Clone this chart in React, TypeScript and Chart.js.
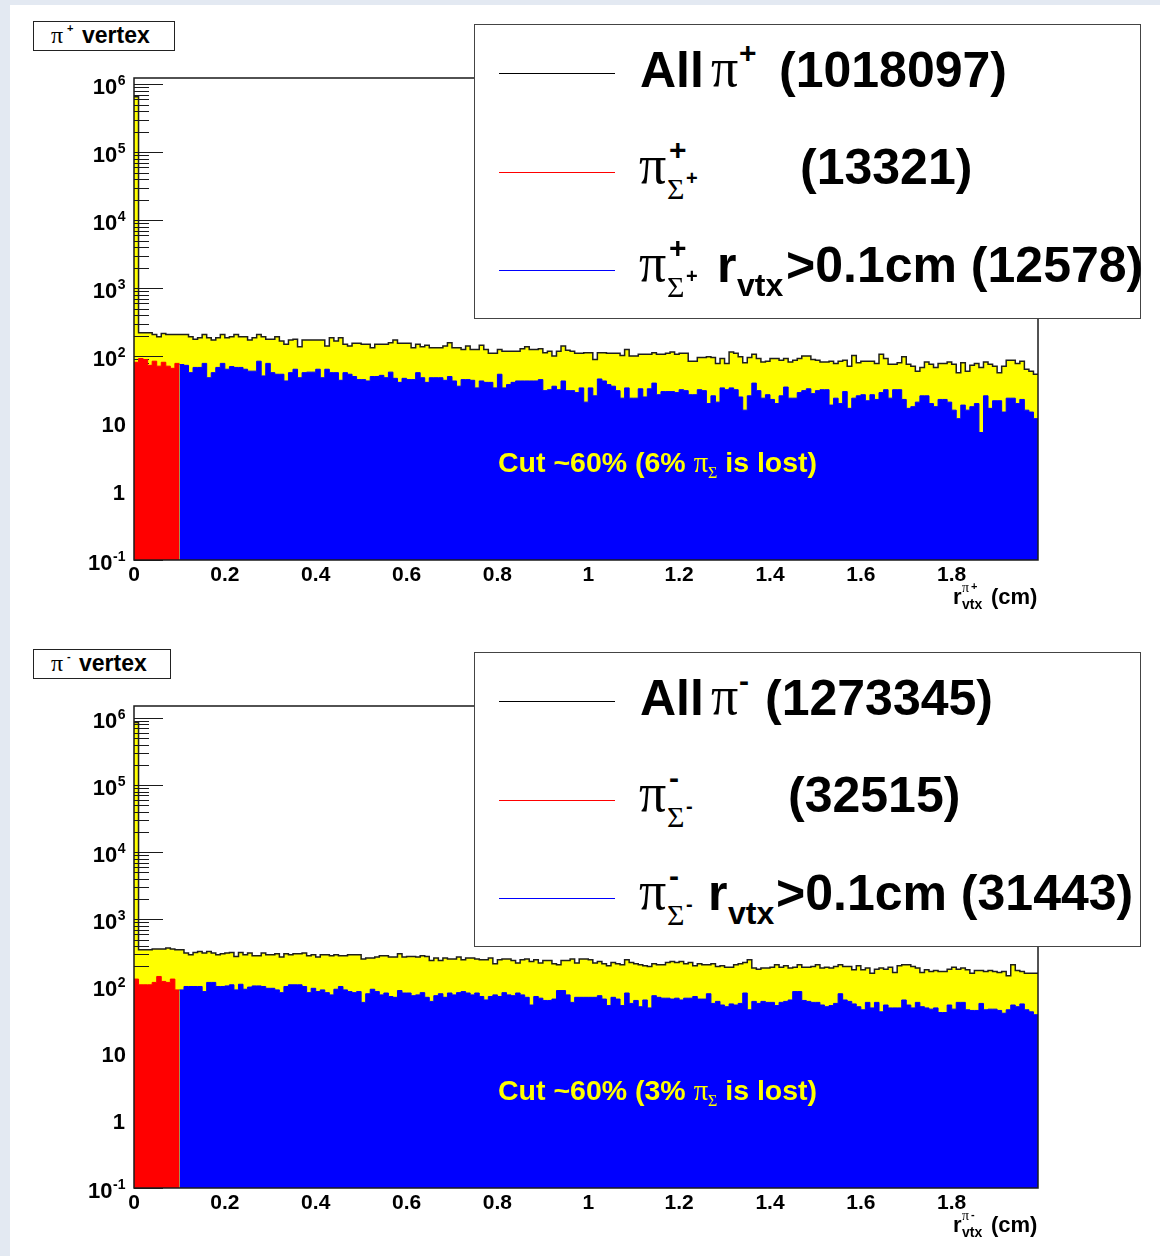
import React, { useEffect, useRef } from 'react';
import { Chart, registerables } from 'chart.js';

Chart.register(...registerables);

// ---------------- data ----------------
const BIN_WIDTH = 0.01; // cm
const X_MIN = 0;
const X_MAX = 1.99;
const Y_MIN = 0.1;
const Y_MAX_PLUS = 1.23e6;
const Y_MAX_MINUS = 1.5e6;
const X_TICKS = [0, 0.2, 0.4, 0.6, 0.8, 1, 1.2, 1.4, 1.6, 1.8];
const X_TICK_LABELS = ['0', '0.2', '0.4', '0.6', '0.8', '1', '1.2', '1.4', '1.6', '1.8'];
const Y_DECADES = [-1, 0, 1, 2, 3, 4, 5, 6];

// pi+ : all (yellow), bins 0..198
const PIP_ALL = [
  650000, 221, 221, 221, 208, 193, 215, 208, 208, 208,
  208, 208, 193, 176, 186, 208, 186, 172, 186, 208,
  186, 193, 208, 193, 193, 172, 186, 208, 193, 176,
  176, 193, 166, 149, 172, 176, 137, 172, 172, 172,
  172, 172, 140, 186, 166, 186, 149, 140, 154, 154,
  149, 149, 133, 149, 149, 149, 157, 172, 154, 154,
  154, 133, 149, 137, 144, 133, 133, 133, 140, 157,
  133, 133, 125, 140, 125, 125, 144, 125, 110, 110,
  125, 118, 118, 118, 118, 128, 137, 125, 125, 128,
  112, 118, 100, 118, 140, 122, 118, 110, 110, 112,
  112, 89, 112, 112, 110, 110, 110, 102, 125, 100,
  100, 106, 106, 106, 112, 106, 106, 110, 115, 106,
  110, 110, 84, 84, 95, 95, 98, 95, 78, 92,
  78, 115, 110, 98, 80, 95, 106, 92, 82, 84,
  92, 92, 87, 92, 82, 87, 92, 100, 100, 89,
  87, 82, 82, 84, 78, 84, 87, 71, 102, 80,
  84, 84, 84, 78, 106, 92, 76, 76, 80, 98,
  76, 71, 60, 68, 82, 76, 68, 78, 78, 82,
  76, 57, 80, 60, 73, 78, 68, 82, 76, 71,
  57, 71, 87, 87, 78, 84, 64, 60, 54,
];
// pi+ from Sigma+, r < 0.1 cm (red), bins 0..9
const PIP_SIGMA_IN = [81, 92, 89, 73, 84, 71, 81, 71, 66, 78];
// pi+ from Sigma+, r > 0.1 cm (blue), bins 10..198
const PIP_SIGMA_OUT = [
  75, 73, 57, 68, 68, 78, 48, 57, 68, 78,
  64, 70, 68, 68, 64, 60, 60, 84, 51, 78,
  57, 54, 54, 43, 57, 64, 48, 57, 58, 58,
  64, 48, 64, 57, 57, 44, 57, 54, 50, 45,
  45, 43, 50, 50, 52, 48, 58, 47, 41, 47,
  45, 45, 57, 48, 41, 48, 48, 48, 44, 50,
  43, 36, 45, 45, 44, 34, 43, 41, 41, 34,
  54, 34, 38, 41, 43, 43, 43, 43, 43, 45,
  31, 32, 36, 32, 43, 31, 31, 29, 34, 21,
  34, 26, 46, 43, 38, 36, 31, 24, 34, 24,
  24, 33, 25, 33, 40, 27, 30, 30, 30, 29,
  32, 31, 27, 27, 32, 31, 20, 26, 21, 34,
  32, 34, 32, 25, 16, 26, 40, 31, 24, 27,
  23, 20, 26, 35, 24, 24, 29, 31, 33, 28,
  31, 32, 32, 19, 24, 20, 30, 17, 24, 26,
  27, 22, 27, 23, 29, 32, 24, 32, 32, 23,
  17, 18, 21, 26, 26, 20, 18, 23, 23, 21,
  16, 12, 19, 16, 18, 20, 7.5, 26, 17, 22,
  22, 15, 24, 24, 20, 23, 16, 15, 12,
];

// pi- : all (yellow), bins 0..198
const PIM_ALL = [
  850000, 352, 352, 352, 361, 361, 361, 373, 361, 352,
  352, 314, 297, 321, 332, 314, 332, 314, 297, 307,
  314, 321, 280, 321, 297, 314, 287, 287, 314, 297,
  297, 307, 274, 307, 297, 307, 307, 314, 287, 297,
  274, 297, 297, 287, 297, 287, 287, 297, 297, 297,
  256, 265, 265, 274, 287, 287, 274, 274, 307, 274,
  280, 280, 274, 287, 280, 244, 265, 244, 265, 256,
  256, 274, 250, 265, 265, 256, 250, 250, 265, 218,
  250, 256, 256, 244, 223, 250, 256, 236, 250, 223,
  244, 244, 218, 211, 244, 244, 256, 223, 256, 256,
  250, 223, 236, 218, 203, 228, 218, 211, 250, 228,
  218, 211, 203, 199, 218, 211, 211, 228, 236, 228,
  236, 218, 228, 203, 218, 211, 211, 218, 199, 203,
  194, 194, 211, 218, 228, 250, 188, 181, 188, 188,
  194, 211, 194, 203, 188, 194, 211, 194, 194, 199,
  211, 188, 194, 188, 199, 211, 199, 199, 177, 203,
  177, 188, 158, 181, 188, 181, 194, 162, 203, 211,
  211, 199, 188, 162, 177, 167, 173, 167, 167, 181,
  194, 181, 188, 177, 158, 173, 173, 167, 173, 167,
  162, 167, 144, 211, 173, 167, 158, 158, 158,
];
// pi- from Sigma-, r < 0.1 cm (red), bins 0..9
const PIM_SIGMA_IN = [129, 106, 106, 106, 115, 141, 119, 115, 129, 89];
// pi- from Sigma-, r > 0.1 cm (blue), bins 10..198
const PIM_SIGMA_OUT = [
  89, 100, 100, 100, 100, 84, 115, 115, 100, 100,
  102, 106, 89, 108, 91, 98, 102, 102, 100, 94,
  94, 89, 81, 100, 106, 106, 106, 100, 81, 94,
  84, 89, 81, 75, 91, 100, 89, 84, 81, 84,
  58, 78, 91, 84, 75, 80, 71, 69, 87, 80,
  80, 73, 75, 81, 69, 60, 73, 78, 69, 80,
  75, 81, 84, 80, 75, 80, 71, 63, 71, 75,
  71, 81, 75, 73, 80, 75, 69, 53, 71, 67,
  62, 62, 65, 87, 87, 75, 58, 69, 69, 69,
  69, 69, 73, 65, 52, 69, 65, 52, 80, 56,
  62, 50, 63, 48, 73, 69, 67, 67, 65, 67,
  63, 67, 67, 71, 65, 65, 78, 56, 60, 53,
  50, 55, 53, 56, 80, 45, 60, 56, 60, 58,
  58, 52, 58, 60, 63, 84, 84, 62, 60, 58,
  58, 53, 50, 52, 56, 78, 63, 60, 55, 50,
  45, 58, 48, 58, 42, 53, 48, 48, 48, 63,
  53, 48, 58, 50, 48, 46, 48, 41, 41, 53,
  46, 58, 58, 45, 44, 44, 56, 45, 46, 46,
  44, 40, 45, 53, 50, 55, 45, 42, 38,
];

// ---------------- helpers ----------------
const SANS = '"Liberation Sans", Arial, Helvetica, sans-serif';
const SERIF = '"Liberation Serif", "Times New Roman", serif';

function steps(vals: number[], firstBin: number) {
  const pts = vals.map((v, i) => ({ x: (firstBin + i) * BIN_WIDTH, y: v }));
  pts.push({ x: (firstBin + vals.length) * BIN_WIDTH, y: vals[vals.length - 1] });
  return pts;
}

const rootAxesPlugin = {
  id: 'rootAxes',
  afterDatasetDraw(chart: any, args: any) {
    if (args.index !== 2) return; // after the "all" histogram, before the others
    const { ctx, chartArea: a } = chart;
    const y = chart.scales.y;
    ctx.save();
    ctx.beginPath();
    ctx.strokeStyle = '#1a1a1a';
    ctx.lineWidth = 1.2;
    for (const e of Y_DECADES) {
      for (let m = 1; m <= 9; m++) {
        const v = m * Math.pow(10, e);
        if (v < y.min * 0.999 || v > y.max) continue;
        const py = Math.round(y.getPixelForValue(v)) + 0.5;
        const len = m === 1 ? 29 : 15;
        ctx.moveTo(a.left, py);
        ctx.lineTo(a.left + len, py);
      }
    }
    ctx.stroke();
    ctx.restore();
  },
  afterDatasetsDraw(chart: any) {
    const { ctx, chartArea: a } = chart;
    const x = chart.scales.x;
    const y = chart.scales.y;
    ctx.save();
    // frame
    ctx.strokeStyle = '#1a1a1a';
    ctx.lineWidth = 1.5;
    ctx.strokeRect(a.left, a.top, a.right - a.left, a.bottom - a.top);
    ctx.fillStyle = '#000';
    // y labels
    for (const e of Y_DECADES) {
      const py = y.getPixelForValue(Math.pow(10, e));
      ctx.textAlign = 'right';
      ctx.textBaseline = 'alphabetic';
      ctx.font = `bold 22px ${SANS}`;
      if (e === 0 || e === 1) {
        ctx.fillText(e === 0 ? '1' : '10', e === 0 ? 125 : 126, py + 8);
      } else {
        const ex = String(e);
        ctx.font = `bold 14px ${SANS}`;
        const w = ctx.measureText(ex).width;
        const mainRight = 125.5 - w - 0.5;
        ctx.textAlign = 'left';
        ctx.fillText(ex, mainRight + 0.5, py + 1);
        ctx.font = `bold 22px ${SANS}`;
        ctx.textAlign = 'right';
        ctx.fillText('10', mainRight, py + 10);
      }
    }
    // x labels
    ctx.font = `bold 21px ${SANS}`;
    ctx.textAlign = 'center';
    X_TICKS.forEach((t, i) => {
      ctx.fillText(X_TICK_LABELS[i], x.getPixelForValue(t), a.bottom + 20.5);
    });
    ctx.restore();
  },
};

function Hist({ all, sigIn, sigOut, yMax }: { all: number[]; sigIn: number[]; sigOut: number[]; yMax: number }) {
  const ref = useRef<HTMLCanvasElement>(null);
  useEffect(() => {
    const chart = new Chart(ref.current as HTMLCanvasElement, {
      type: 'line',
      data: {
        datasets: [
          {
            label: 'r > 0.1 cm',
            data: steps(sigOut, sigIn.length),
            stepped: true,
            fill: 'start',
            backgroundColor: '#0000ff',
            borderColor: '#0000ff',
            borderWidth: 1,
            pointRadius: 0,
          },
          {
            label: 'r < 0.1 cm',
            data: steps(sigIn, 0),
            stepped: true,
            fill: 'start',
            backgroundColor: '#ff0000',
            borderColor: '#ff0000',
            borderWidth: 1,
            pointRadius: 0,
          },
          {
            label: 'all',
            data: steps(all, 0),
            stepped: true,
            fill: 'start',
            backgroundColor: '#ffff00',
            borderColor: '#1e1e1e',
            borderWidth: 1.5,
            pointRadius: 0,
          },
        ],
      },
      options: {
        responsive: false,
        animation: false,
        events: [],
        layout: { padding: { left: 134, right: 122, top: 78, bottom: 68 } },
        scales: {
          x: { type: 'linear', min: X_MIN, max: X_MAX, display: false },
          y: { type: 'logarithmic', min: Y_MIN, max: yMax, display: false },
        },
        plugins: { legend: { display: false }, tooltip: { enabled: false }, title: { display: false } },
      } as any,
      plugins: [rootAxesPlugin as any],
    });
    return () => chart.destroy();
  }, []);
  return <canvas ref={ref} width={1160} height={628} style={{ position: 'absolute', left: 0, top: 0, width: 1160, height: 628 }} />;
}

const T = ({ x, b, size, font = SANS, weight = 700, color = '#000', children }: any) => (
  <span
    style={{
      position: 'absolute',
      left: x,
      top: b - 0.845 * size,
      fontSize: size,
      lineHeight: `${size}px`,
      fontFamily: font,
      fontWeight: weight,
      color,
      whiteSpace: 'nowrap',
    }}
  >
    {children}
  </span>
);

function Panel({ top, sign, all, sigIn, sigOut, yMax, nAll, nSig, nCut, lost }: any) {
  const plus = sign === '+';
  return (
    <div style={{ position: 'absolute', left: 0, top, width: 1160, height: 628 }}>
      <Hist all={all} sigIn={sigIn} sigOut={sigOut} yMax={yMax} />
      {/* title box */}
      <div
        style={{
          position: 'absolute', left: 33, top: 21, width: plus ? 142 : 138, height: 30,
          border: '1.5px solid #222', background: '#fff', boxSizing: 'border-box',
        }}
      />
      <T x={51} b={43} size={24} font={SERIF} weight={400}>π</T>
      <T x={67} b={32} size={11}>{plus ? '+' : '-'}</T>
      <T x={plus ? 82 : 79} b={43} size={23}>vertex</T>

      {/* legend */}
      <div
        style={{
          position: 'absolute', left: 474, top: 24, width: 667, height: 295,
          border: '1.5px solid #444', background: '#fff', boxSizing: 'border-box',
        }}
      />
      <div style={{ position: 'absolute', left: 499, top: 72.5, width: 116, height: 1.5, background: '#000' }} />
      <div style={{ position: 'absolute', left: 499, top: 171.5, width: 116, height: 1.5, background: '#ff0000' }} />
      <div style={{ position: 'absolute', left: 499, top: 269.5, width: 116, height: 1.5, background: '#0000ff' }} />

      <T x={640} b={87} size={50}>All</T>
      <T x={711} b={87} size={54} font={SERIF} weight={400}>π</T>
      <T x={739} b={63} size={30}>{plus ? '+' : '-'}</T>
      <T x={plus ? 779 : 765} b={87} size={50}>({nAll})</T>

      <T x={639} b={184} size={54} font={SERIF} weight={400}>π</T>
      <T x={669} b={160} size={30}>{plus ? '+' : '-'}</T>
      <T x={667} b={199} size={30} font={SERIF} weight={400}>Σ</T>
      <T x={686} b={185} size={20}>{plus ? '+' : '-'}</T>
      <T x={plus ? 800 : 788} b={184} size={50}>({nSig})</T>

      <T x={639} b={282} size={54} font={SERIF} weight={400}>π</T>
      <T x={669} b={258} size={30}>{plus ? '+' : '-'}</T>
      <T x={667} b={297} size={30} font={SERIF} weight={400}>Σ</T>
      <T x={686} b={283} size={20}>{plus ? '+' : '-'}</T>
      <T x={plus ? 717 : 708} b={282} size={50}>r</T>
      <T x={plus ? 737 : 728} b={296} size={32}>vtx</T>
      <T x={plus ? 786 : 776} b={282} size={50}>&gt;0.1cm ({nCut})</T>

      {/* annotation */}
      <T x={498} b={472} size={28.5} color="#ffff00">
        Cut ~60% ({lost}% <span style={{ fontFamily: SERIF, fontWeight: 400 }}>π</span>
        <span style={{ fontFamily: SERIF, fontWeight: 400, fontSize: 16, position: 'relative', top: 6 }}>Σ</span> is lost)
      </T>

      {/* x axis title */}
      <T x={953} b={605} size={22}>r</T>
      <T x={962} b={593} size={14} font={SERIF} weight={400}>π</T>
      <T x={971} b={590} size={11}>{plus ? '+' : '-'}</T>
      <T x={962} b={609} size={14}>vtx</T>
      <T x={991} b={605} size={22}>(cm)</T>
    </div>
  );
}

export default function App() {
  return (
    <div style={{ position: 'absolute', left: 0, top: 0, width: 1160, height: 1256, background: '#e3e9f2', overflow: 'hidden' }}>
      <div style={{ position: 'absolute', left: 10, top: 5, right: 0, bottom: 0, background: '#ffffff' }} />
      <Panel top={0} sign="+" all={PIP_ALL} sigIn={PIP_SIGMA_IN} sigOut={PIP_SIGMA_OUT} yMax={Y_MAX_PLUS}
        nAll="1018097" nSig="13321" nCut="12578" lost="6" />
      <Panel top={628} sign="-" all={PIM_ALL} sigIn={PIM_SIGMA_IN} sigOut={PIM_SIGMA_OUT} yMax={Y_MAX_MINUS}
        nAll="1273345" nSig="32515" nCut="31443" lost="3" />
    </div>
  );
}
